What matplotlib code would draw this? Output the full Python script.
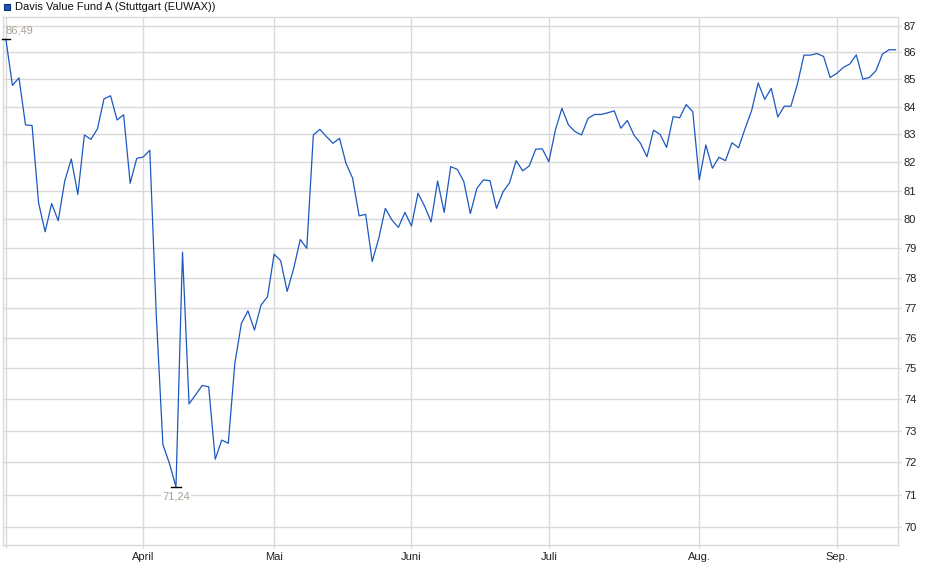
import matplotlib
matplotlib.use('Agg')
import matplotlib.pyplot as plt
from matplotlib.ticker import FixedLocator, NullLocator, FuncFormatter
from matplotlib.patches import Rectangle
import pandas as pd

plt.rcParams['font.family'] = ['Liberation Sans', 'DejaVu Sans']

# Handelstage (Stuttgart), ohne Karfreitag, Ostermontag, 1. Mai
holidays = ['2025-04-18', '2025-04-21', '2025-05-01']
dates = pd.bdate_range('2025-03-03', '2025-09-12', freq='C', holidays=holidays)

prices = [
    86.49, 84.78, 85.06, 83.34, 83.32, 80.57, 79.57, 80.55, 79.95, 81.34,
    82.12, 80.87, 82.98, 82.82, 83.20, 84.29, 84.40, 83.52, 83.71, 81.26,
    82.14, 82.19, 82.43, 76.70, 72.56, 71.97, 71.24, 78.87, 73.85, 74.14,
    74.44, 74.40, 72.10, 72.70, 72.60, 75.16, 76.47, 76.89, 76.25, 77.08,
    77.36, 78.80, 78.58, 77.54, 78.32, 79.30, 79.00, 82.98, 83.18, 82.92,
    82.68, 82.86, 81.96, 81.44, 80.12, 80.17, 78.55, 79.34, 80.38, 79.98,
    79.72, 80.24, 79.77, 80.91, 80.46, 79.91, 81.34, 80.24, 81.85, 81.75,
    81.32, 80.20, 81.08, 81.38, 81.35, 80.38, 80.96, 81.28, 82.06, 81.70,
    81.87, 82.47, 82.48, 82.02, 83.16, 83.94, 83.34, 83.10, 82.98, 83.58,
    83.72, 83.72, 83.78, 83.85, 83.22, 83.50, 82.98, 82.68, 82.20, 83.15,
    83.00, 82.53, 83.64, 83.60, 84.08, 83.82, 81.38, 82.62, 81.79, 82.18,
    82.06, 82.70, 82.52, 83.21, 83.86, 84.87, 84.27, 84.67, 83.63, 84.02,
    84.02, 84.83, 85.90, 85.90, 85.96, 85.85, 85.07, 85.22, 85.44, 85.57,
    85.91, 85.01, 85.07, 85.32, 85.94, 86.10, 86.10,
]
month_names = {4: 'April', 5: 'Mai', 6: 'Juni', 7: 'Juli', 8: 'Aug.', 9: 'Sep.'}
y_ticks = list(range(70, 88))

line_col = '#1c58c0'
grid_col = '#d9d9d9'
label_col = '#a9a195'

df = pd.DataFrame({'date': dates, 'price': prices})
x = list(range(len(df)))

fig = plt.figure(figsize=(9.4, 5.79), dpi=100)
ax = fig.add_axes([0.0032, 0.0582, 0.9525, 0.9124])

ax.plot(x, df['price'], color=line_col, lw=0.9, zorder=3)

ax.set_yscale('log')
ax.set_ylim(69.46, 87.33)
ax.set_xlim(-0.44, len(df) - 0.57)

# Monatsanfänge als Gitterlinien
first_idx = df.groupby(df['date'].dt.month).head(1).index.tolist()
ax.set_xticks(first_idx)
ax.set_xticklabels([month_names.get(df['date'][i].month, '') for i in first_idx])

ax.yaxis.set_major_locator(FixedLocator(y_ticks))
ax.yaxis.set_minor_locator(NullLocator())
ax.yaxis.set_major_formatter(FuncFormatter(lambda v, p: f'{v:.0f}'))
ax.yaxis.tick_right()

ax.grid(True, color=grid_col, lw=1.0, zorder=0)
for s in ax.spines.values():
    s.set_color(grid_col)
    s.set_linewidth(1.0)
ax.tick_params(axis='both', labelsize=8, colors='#222222', length=2, width=1)
ax.tick_params(axis='x', pad=2.5, color=grid_col)
ax.tick_params(axis='y', pad=2, color=grid_col)

# Hoch und Tief markieren
imax = df['price'].idxmax()
imin = df['price'].idxmin()
vmax = df['price'][imax]
vmin = df['price'][imin]
ax.plot([imax - 0.65, imax + 0.65], [vmax, vmax], color='black', lw=1, zorder=4, clip_on=False)
ax.plot([imin - 0.7, imin + 0.7], [vmin, vmin], color='black', lw=1, zorder=4)
ax.annotate(f'{vmax:.2f}'.replace('.', ','), (imax, vmax), xytext=(0, 3),
            textcoords='offset points', ha='left', va='bottom', fontsize=8,
            color=label_col, zorder=5)
ax.annotate(f'{vmin:.2f}'.replace('.', ','), (imin, vmin), xytext=(0, -3),
            textcoords='offset points', ha='center', va='top', fontsize=8,
            color=label_col, zorder=5,
            bbox=dict(boxstyle='square,pad=0.1', fc='white', ec='none'))

# Legende oben links
fig.patches.append(Rectangle((3.5 / 940, 1 - 10 / 579), 6.5 / 940, 6.5 / 579,
                             transform=fig.transFigure, fc=line_col, ec='#0d2f6e', lw=0.8))
fig.text(15 / 940, 1 - 6.8 / 579, 'Davis Value Fund A (Stuttgart (EUWAX))',
         fontsize=8, color='#111111', va='center', ha='left')

plt.savefig('out.png', dpi=100)
